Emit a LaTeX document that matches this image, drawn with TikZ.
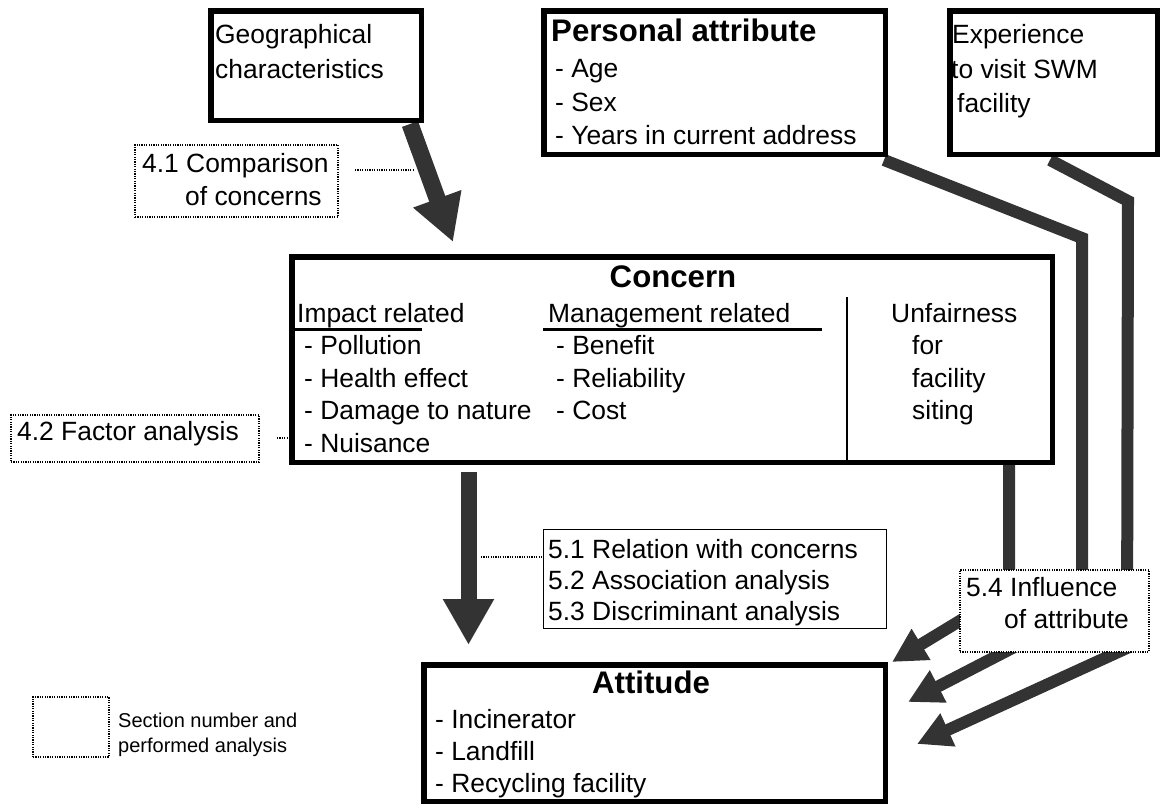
\documentclass[tikz,border=0pt]{standalone}
\usepackage{fontspec}
\setmainfont{Liberation Sans}
\usetikzlibrary{arrows.meta}
\definecolor{arrowgray}{RGB}{51,51,51}
\newcommand\bodyfont{\fontsize{26.4}{32}\selectfont}
\newcommand\titlefont{\fontsize{31.2}{36}\selectfont\bfseries}
\newcommand\legendfont{\fontsize{20}{24}\selectfont}
\begin{document}
\begin{tikzpicture}[x=1pt,y=-1pt,
  bigbox/.style={draw=black, line width=5.5pt, fill=white, inner sep=0pt},
  thinbox/.style={draw=black, line width=1pt, fill=white, inner sep=0pt},
  dotbox/.style={draw=black, line width=1.2pt, dash pattern=on 1.2pt off 1.2pt, fill=white, inner sep=0pt},
  dotline/.style={draw=black, line width=1.2pt, dash pattern=on 1.2pt off 1.2pt},
  fatarrow/.style={draw=arrowgray, line width=#1, -{Triangle[length=46pt,width=48pt]}},
  slimarrow/.style={draw=arrowgray, line width=12pt, miter limit=4, -{Triangle[length=34pt,width=34pt]}},
  txt/.style={anchor=base west, inner sep=0pt, font=\bodyfont},
  ttl/.style={anchor=base, inner sep=0pt, font=\titlefont},
  lgd/.style={anchor=base west, inner sep=0pt, font=\legendfont}]
\useasboundingbox (0,0) rectangle (1163,807);
\fill[white] (0,0) rectangle (1163,807);

% coordinates for connectors
\coordinate (gA) at (410,124);
\coordinate (gB) at (453,242);
\coordinate (cA) at (468.5,472);
\coordinate (cB) at (468.5,645);
\coordinate (uA) at (1009,460);
\coordinate (uB) at (1009,591);
\coordinate (uT) at (892,662);
\coordinate (pA) at (884,160);
\coordinate (pB) at (1082,238);
\coordinate (pC) at (1082,612);
\coordinate (pT) at (908,702);
\coordinate (eA) at (1050,160);
\coordinate (eB) at (1128,201);
\coordinate (eC) at (1127,648);
\coordinate (eT) at (917,744);

% dark connectors (behind the boxes)
\draw[fatarrow=17pt] (gA) -- (gB);
\draw[fatarrow=16pt] (cA) -- (cB);
\draw[slimarrow] (uA) -- (uB) -- (uT);
\draw[slimarrow] (pA) -- (pB) -- (pC) -- (pT);
\draw[slimarrow] (eA) -- (eB) -- (eC) -- (eT);

% main boxes
\node[bigbox, minimum width=210.5pt, minimum height=109.5pt] (geo) at (316,65.5) {};
\node[bigbox, minimum width=341.5pt, minimum height=143.5pt] (pers) at (714.5,82.5) {};
\node[bigbox, minimum width=207.5pt, minimum height=143.5pt] (expe) at (1053.5,82.5) {};
\node[bigbox, minimum width=760.5pt, minimum height=205.5pt] (conc) at (672,359.5) {};
\node[bigbox, minimum width=461.5pt, minimum height=136.5pt] (atti) at (654.5,733) {};

% analysis boxes
\node[thinbox, minimum width=343pt, minimum height=99pt] (s51) at (714.5,578.5) {};
\node[dotbox, minimum width=203pt, minimum height=72pt] (s41) at (236.5,181) {};
\node[dotbox, minimum width=248pt, minimum height=47pt] (s42) at (135,438.5) {};
\node[dotbox, minimum width=189pt, minimum height=82pt] (s54) at (1054.5,611) {};
\node[dotbox, minimum width=76pt, minimum height=60pt] (leg) at (71,727) {};

% dotted leaders
\coordinate (d41a) at (355,170);
\coordinate (d41b) at (414,170);
\coordinate (d42a) at (277,438);
\coordinate (d42b) at (289,438);
\coordinate (d51a) at (481,557);
\coordinate (d51b) at (543,557);
\draw[dotline] (d41a) -- (d41b);
\draw[dotline] (d42a) -- (d42b);
\draw[dotline] (d51a) -- (d51b);

% concern inner rules
\draw[line width=3pt] (292,329) -- (422,329);
\draw[line width=3pt] (543,329) -- (822,329);
\draw[line width=1.5pt] (847,297) -- (847,462);

% texts: geographical
\node[txt] (g1) at (215,43.5) {Geographical};
\node[txt] (g2) at (215,78.5) {characteristics};
% personal attribute
\node[anchor=base west, inner sep=0pt, font=\titlefont] (p0) at (551,41.5) {Personal attribute};
\node[txt] (p1) at (555,77.5) {- Age};
\node[txt] (p2) at (555,111.5) {- Sex};
\node[txt] (p3) at (555,144.5) {- Years in current address};
% experience
\node[txt] (e1) at (952,43) {Experience};
\node[txt] (e2) at (951,78) {to visit SWM};
\node[txt] (e3) at (957,112) {facility};
% concern
\node[ttl] (c0) at (673,287) {Concern};
\node[txt] (i0) at (297,322) {Impact related};
\node[txt] (i1) at (304,354.5) {- Pollution};
\node[txt] (i2) at (304,387) {- Health effect};
\node[txt] (i3) at (304,419.5) {- Damage to nature};
\node[txt] (i4) at (304,452) {- Nuisance};
\node[txt] (m0) at (548,322) {Management related};
\node[txt] (m1) at (556,354.5) {- Benefit};
\node[txt] (m2) at (556,387) {- Reliability};
\node[txt] (m3) at (556,419.5) {- Cost};
\node[txt] (f0) at (891,322) {Unfairness};
\node[txt] (f1) at (912,354.5) {for};
\node[txt] (f2) at (912,387) {facility};
\node[txt] (f3) at (912,419.5) {siting};
% attitude
\node[ttl] (a0) at (651,693) {Attitude};
\node[txt] (a1) at (435,728) {- Incinerator};
\node[txt] (a2) at (435,760) {- Landfill};
\node[txt] (a3) at (435,792) {- Recycling facility};
% analysis labels
\node[txt] (l41a) at (142,172) {4.1 Comparison};
\node[txt] (l41b) at (185,205) {of concerns};
\node[txt] (l42) at (17,440) {4.2 Factor analysis};
\node[txt] (l51) at (548,558) {5.1 Relation with concerns};
\node[txt] (l52) at (548,589) {5.2 Association analysis};
\node[txt] (l53) at (548,620) {5.3 Discriminant analysis};
\node[txt] (l54a) at (966,596) {5.4 Influence};
\node[txt] (l54b) at (1004,628) {of attribute};
\node[lgd] (lg1) at (118,727) {Section number and};
\node[lgd] (lg2) at (118,752) {performed analysis};
\end{tikzpicture}
\end{document}
